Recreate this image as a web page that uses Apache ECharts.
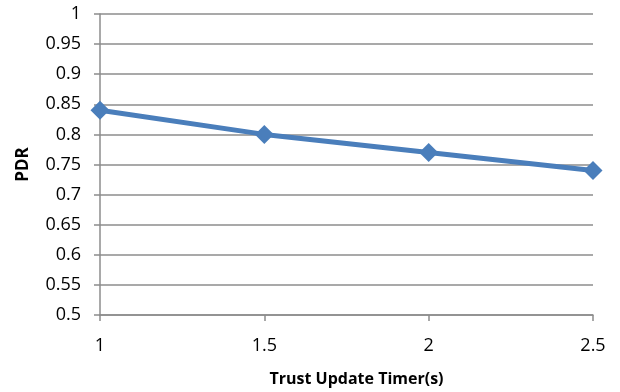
<!DOCTYPE html>
<html>
<head>
<meta charset="utf-8">
<script src="https://cdn.jsdelivr.net/npm/echarts@6/dist/echarts.min.js"></script>
<style>
  html, body { margin: 0; padding: 0; background: #fff; }
  #chart { width: 620px; height: 392px; }
</style>
</head>
<body>
<div id="chart"></div>
<script>
// Packet delivery ratio against trust update timer
const timerLabels = ['1', '1.5', '2', '2.5'];
const pdrValues = [0.84, 0.80, 0.77, 0.74];
const yMin = 0.5, yMax = 1, yStep = 0.05;

const font = '"Open Sans", "Liberation Sans", sans-serif';
const gridColor = '#8c8c8c';

const chart = echarts.init(document.getElementById('chart'), null, { renderer: 'canvas' });
chart.setOption({
  animation: false,
  grid: { left: 100, right: 27, top: 14, bottom: 77 },
  xAxis: {
    type: 'category',
    data: timerLabels,
    boundaryGap: false,
    name: 'Trust Update Timer(s)',
    nameLocation: 'middle',
    nameGap: 56,
    nameTextStyle: { fontFamily: font, fontSize: 16, fontWeight: 'bold', color: '#000', padding: [0, 0, 0, 20] },
    axisLine: { lineStyle: { color: gridColor, width: 1.5 } },
    axisTick: { show: true, alignWithLabel: true, length: 6, lineStyle: { color: gridColor, width: 1.5 } },
    axisLabel: { margin: 22, fontFamily: font, fontSize: 18, color: '#000' },
    splitLine: { show: false }
  },
  yAxis: {
    type: 'value',
    min: yMin,
    max: yMax,
    interval: yStep,
    name: 'PDR',
    nameLocation: 'middle',
    nameGap: 68,
    nameRotate: 90,
    nameTextStyle: { fontFamily: font, fontSize: 17, fontWeight: 'bold', color: '#000' },
    axisLine: { show: true, lineStyle: { color: gridColor, width: 1.5 } },
    axisTick: { show: true, length: 6, lineStyle: { color: gridColor, width: 1.5 } },
    axisLabel: {
      margin: 19,
      fontFamily: font,
      fontSize: 18,
      color: '#000',
      formatter: v => String(parseFloat(v.toFixed(2)))
    },
    splitLine: { show: true, lineStyle: { color: gridColor, width: 1.5 } }
  },
  series: [{
    type: 'line',
    data: pdrValues,
    symbol: 'diamond',
    symbolSize: 19,
    lineStyle: { color: '#4a7ebb', width: 5 },
    itemStyle: { color: '#4a7ebb' }
  }]
});
</script>
</body>
</html>
